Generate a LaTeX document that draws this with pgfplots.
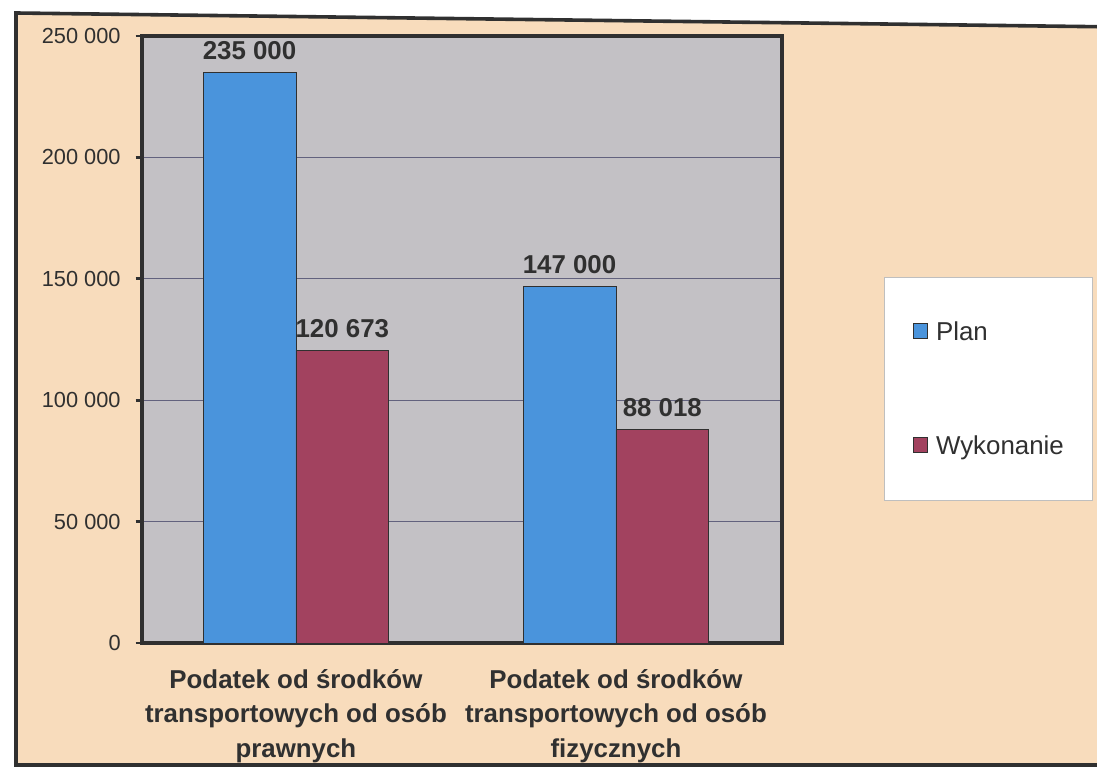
\documentclass[border=0pt]{standalone}
\usepackage{pgfplots}
\pgfplotsset{compat=1.18}
\usepackage{fontspec}
\setmainfont{Liberation Sans}
\definecolor{peach}{HTML}{F8DCBC}
\definecolor{plotgray}{HTML}{C3C1C5}
\definecolor{planblue}{HTML}{4A94DC}
\definecolor{wykred}{HTML}{A2425F}
\definecolor{ink}{HTML}{303030}
\definecolor{gridc}{HTML}{62627E}

\begin{document}
\begin{tikzpicture}
% 1 px of the reference = 0.25 mm
\path[use as bounding box] (0,0) rectangle (274.25mm,192.75mm);
\clip (0,0) rectangle (274.25mm,192.75mm);
\fill[white] (0,0) rectangle (274.25mm,192.75mm);
\filldraw[fill=peach, draw=ink, line width=0.9mm]
  (4mm,189.5mm) -- (280mm,186mm) -- (280mm,1.5mm) -- (4mm,1.5mm) -- cycle;

\begin{axis}[
    at={(35.5mm,32mm)}, anchor=south west,
    width=160mm, height=151.75mm, scale only axis,
    axis background/.style={fill=plotgray},
    axis line style={ink, line width=0.9mm},
    ybar=0pt, bar width=0.29,
    xmin=-0.481, xmax=1.519,
    ymin=0, ymax=250000,
    xtick={0,1},
    xticklabels={{Podatek od środków\\transportowych od osób\\prawnych},
                 {Podatek od środków\\transportowych od osób\\fizycznych}},
    xtick style={draw=none},
    x tick label style={font=\fontsize{18.4}{24.5}\selectfont\bfseries, text=ink,
      align=center, yshift=-3.8mm},
    ytick={0,50000,100000,150000,200000,250000},
    ytick pos=left,
    tick align=outside,
    major tick length=1.6mm,
    ytick style={ink, line width=0.7mm},
    scaled y ticks=false,
    y tick label style={font=\fontsize{15.5}{18}\selectfont, text=ink, xshift=-2.5mm,
      /pgf/number format/fixed, /pgf/number format/precision=0,
      /pgf/number format/1000 sep={\ },
      /pgf/number format/assume math mode=true},
    ymajorgrids,
    grid style={gridc, line width=0.6pt},
    clip=false,
    nodes near coords,
    nodes near coords style={font=\fontsize{18.4}{20}\selectfont\bfseries, text=ink,
      yshift=1.8mm,
      /pgf/number format/fixed, /pgf/number format/precision=0,
      /pgf/number format/1000 sep={\ },
      /pgf/number format/assume math mode=true},
    legend image code/.code={
      \draw[#1, draw=ink, line width=0.4pt] (0mm,-1.6mm) rectangle (3.7mm,2.1mm);},
    legend cell align=left,
    legend style={at={(1.16,0.603)}, anchor=north west,
      draw=gray!50, fill=white, line width=0.4pt,
      font=\fontsize{18.4}{21}\selectfont, text=ink,
      inner xsep=7mm, inner ysep=11mm,
      nodes={inner sep=0pt},
      column sep=2mm, row sep=23.3mm},
  ]
  \addplot[fill=planblue, draw=ink, line width=0.4pt]
    coordinates {(0,235000) (1,147000)};
  \addlegendentry{Plan}
  \addplot[fill=wykred, draw=ink, line width=0.4pt]
    coordinates {(0,120673) (1,88018)};
  \addlegendentry{Wykonanie}
\end{axis}
\end{tikzpicture}
\end{document}
